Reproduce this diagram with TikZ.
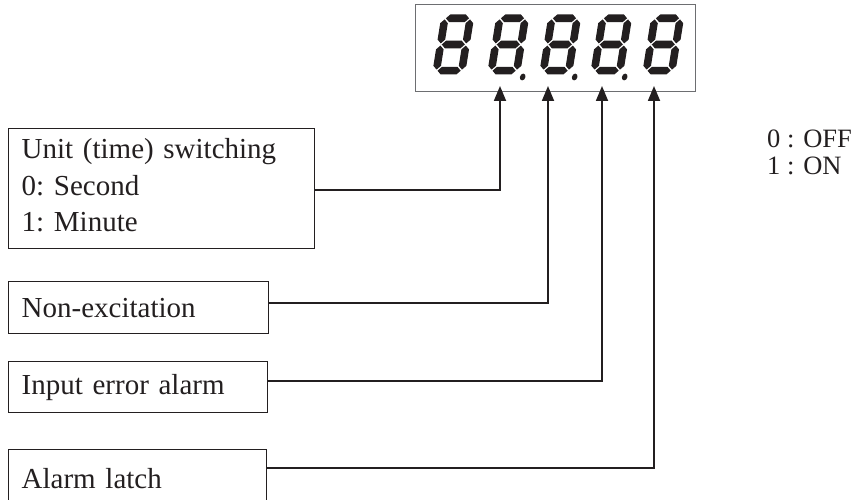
\documentclass[tikz,border=0pt]{standalone}
\usepackage{fontspec}
\setmainfont{Liberation Serif}
\usetikzlibrary{arrows.meta}
\definecolor{ink}{HTML}{231F20}
\definecolor{frame}{HTML}{6D6E71}
\def\sT{3.8}
\def\sG{1.1}
\def\sW{33}
\tikzset{
  box/.style={draw=ink, line width=1.4bp, inner xsep=13bp, inner ysep=0pt,
    align=left, anchor=north west, text=ink,
    font=\fontsize{29bp}{36.5bp}\selectfont\frenchspacing},
  conn/.style={draw=ink, line width=1.8bp,
    -{Triangle[length=15bp,width=12bp]}},
  segdigit/.pic={
    \begin{scope}[xslant=0.16]
      \foreach \c in {-56.2,-30,-3.8}
        \fill[ink] ({\sT+\sG},\c) -- ({2*\sT+\sG},{\c-\sT}) -- ({\sW-2*\sT-\sG},{\c-\sT})
                   -- ({\sW-\sT-\sG},\c) -- ({\sW-2*\sT-\sG},{\c+\sT}) -- ({2*\sT+\sG},{\c+\sT}) -- cycle;
      \foreach \x in {3.8,29.2}
        \foreach \ya/\yb in {-56.2/-30,-30/-3.8}
          \fill[ink] (\x,{\ya+\sG}) -- ({\x+\sT},{\ya+\sG+\sT}) -- ({\x+\sT},{\yb-\sG-\sT})
                     -- (\x,{\yb-\sG}) -- ({\x-\sT},{\yb-\sG-\sT}) -- ({\x-\sT},{\ya+\sG+\sT}) -- cycle;
    \end{scope}
  }
}
\begin{document}
\begin{tikzpicture}[x=1bp, y=-1bp]
\useasboundingbox (0,0) rectangle (856,500);

% display
\node[draw=frame, line width=1.2bp, minimum width=280bp, minimum height=87bp,
      anchor=north west, inner sep=0pt] (disp) at (415,4) {};
\foreach \p in {432,487,539,590,642}
  \pic at (\p,74.5) {segdigit};
\foreach \d in {535,587,637}
  \fill[ink, xslant=0.16] (\d,77) ellipse [x radius=2.8, y radius=3.4];

% arrow tips
\coordinate (t1) at (500,86);
\coordinate (t2) at (548,86);
\coordinate (t3) at (602,86);
\coordinate (t4) at (654,86);

% boxes
\node[box, text width=280bp, minimum height=120bp] (b1) at (8,128)
  {Unit (time) switching\\0: Second\\1: Minute\rule[-7bp]{0pt}{0pt}};
\node[box, text width=234bp, minimum height=52bp] (b2) at (8,281)
  {Non-excitation};
\node[box, text width=233bp, minimum height=51bp] (b3) at (8,361)
  {Input error alarm};
\node[box, text width=232bp, minimum height=58bp] (b4) at (8,449)
  {Alarm latch};

% connectors
\draw[conn] ([yshift=-1bp]b1.east) -| (t1);
\draw[conn] ([yshift=5bp]b2.east) -| (t2);
\draw[conn] ([yshift=6.5bp]b3.east) -| (t3);
\draw[conn] ([yshift=11bp]b4.east) -| (t4);

% legend
\node[anchor=base west, inner sep=0pt, align=left, text=ink,
      font=\fontsize{26.5bp}{27bp}\selectfont] (legend) at (767,175)
  {0 : OFF\\1 : ON};
\end{tikzpicture}
\end{document}
